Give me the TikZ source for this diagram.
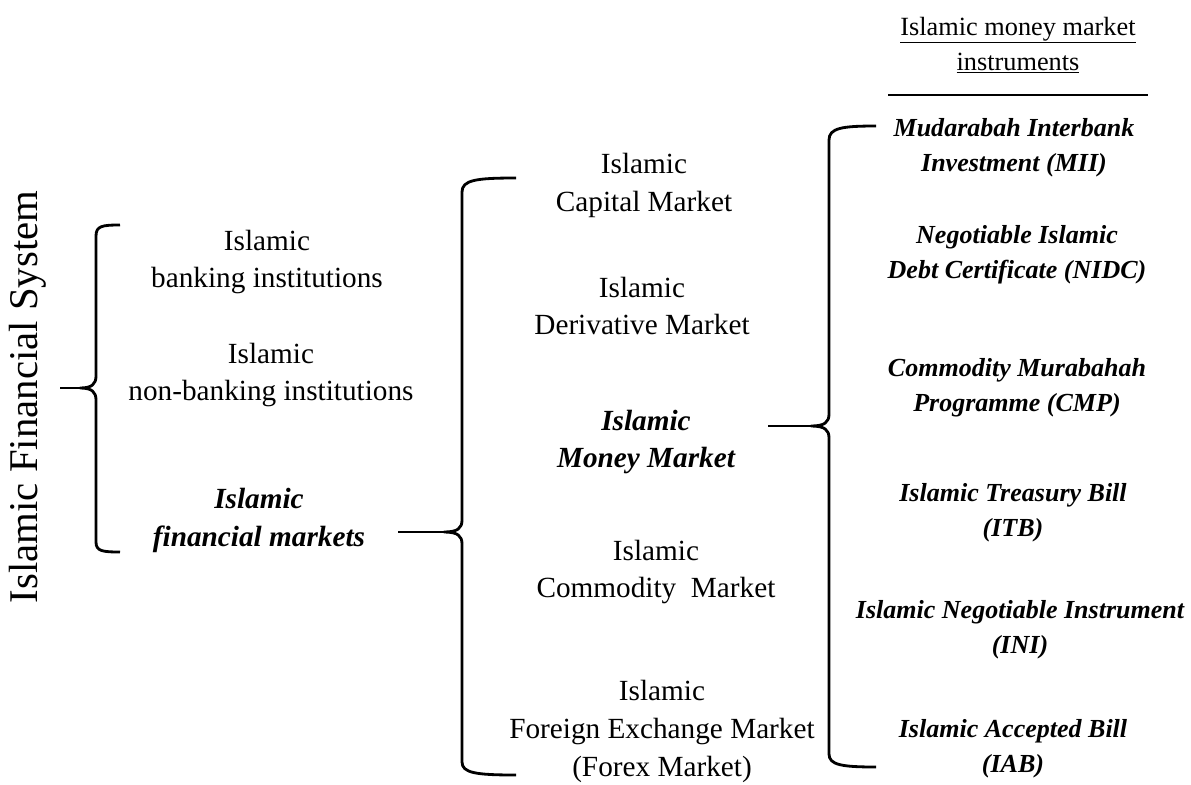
\documentclass[tikz,border=0pt]{standalone}
\usepackage{fontspec}
\setmainfont{Liberation Serif}
\usepackage{tikz}
\tikzset{
  marketbox/.style={align=center, inner sep=0pt, font=\fontsize{20.8}{27}\selectfont},
  keybox/.style={align=center, inner sep=0pt, font=\fontsize{20.8}{27}\selectfont\bfseries\itshape},
  instbox/.style={align=center, inner sep=0pt, font=\fontsize{18.5}{25}\selectfont\bfseries\itshape},
  headbox/.style={align=center, inner sep=0pt, font=\fontsize{18.7}{25}\selectfont},
  titlebox/.style={rotate=90, inner sep=0pt, font=\fontsize{29}{34}\selectfont},
  brace/.style={line width=2pt, line join=round},
  rulebar/.style={line width=1.8pt},
}
\begin{document}
\begin{tikzpicture}[x=0.025cm, y=-0.025cm]
  \useasboundingbox (0,0) rectangle (1191,784);

  % Title
  \node[titlebox] (sys) at (28,397) {Islamic Financial System};

  % Institutions and markets
  \node[marketbox] (bank) at (267,262) {Islamic\\banking institutions};
  \node[marketbox] (nonbank) at (271,375) {Islamic\\non-banking institutions};
  \node[keybox] (finmkt) at (259,520) {Islamic\\financial markets};

  % Market types
  \node[marketbox] (capital) at (644,185) {Islamic\\Capital Market};
  \node[marketbox] (deriv) at (642,306) {Islamic\\Derivative Market};
  \node[keybox] (money) at (646,442) {Islamic\\Money Market};
  \node[marketbox] (commod) at (656,572) {Islamic\\Commodity\ \ Market};
  \node[marketbox] (forex) at (662,731) {Islamic\\Foreign Exchange Market\\(Forex Market)};

  % Instruments heading
  \node[headbox] (head) at (1018,45) {\underline{Islamic money market}\\\underline{instruments}};
  \coordinate (ruleL) at (888,95);
  \coordinate (ruleR) at (1148,95);
  \draw[rulebar] (ruleL) -- (ruleR);

  % Instruments
  \node[instbox] (mii) at (1014,148) {Mudarabah Interbank\\Investment (MII)};
  \node[instbox] (nidc) at (1017,255) {Negotiable Islamic\\Debt Certificate (NIDC)};
  \node[instbox] (cmp) at (1017,388) {Commodity Murabahah\\Programme (CMP)};
  \node[instbox] (itb) at (1013,513) {Islamic Treasury Bill\\(ITB)};
  \node[instbox] (ini) at (1020,630) {Islamic Negotiable Instrument\\(INI)};
  \node[instbox] (iab) at (1013,749) {Islamic Accepted Bill\\(IAB)};

  % Braces
  \coordinate (tipA) at (60,388);
  \coordinate (tipB) at (398,532);
  \coordinate (tipC) at (768,426);
  \draw[brace] (120,225) .. controls (102,225) and (96,226) .. (96,236) -- (96,376)
    .. controls (96,384) and (92,388) .. (80,388) .. controls (92,388) and (96,392) .. (96,400)
    -- (96,542) .. controls (96,551) and (102,552) .. (120,552);
  \draw[brace] (80,388) -- (tipA);
  \draw[brace] (516,178) .. controls (476,178) and (462,180) .. (462,192) -- (462,520)
    .. controls (462,528) and (458,532) .. (444,532) .. controls (458,532) and (462,536) .. (462,544)
    -- (462,762) .. controls (462,773) and (476,775) .. (516,775);
  \draw[brace] (444,532) -- (tipB);
  \draw[brace] (876,126) .. controls (842,126) and (829,128) .. (829,140) -- (829,414)
    .. controls (829,422) and (825,426) .. (811,426) .. controls (825,426) and (829,430) .. (829,438)
    -- (829,754) .. controls (829,765) and (842,767) .. (876,767);
  \draw[brace] (811,426) -- (tipC);
\end{tikzpicture}
\end{document}
